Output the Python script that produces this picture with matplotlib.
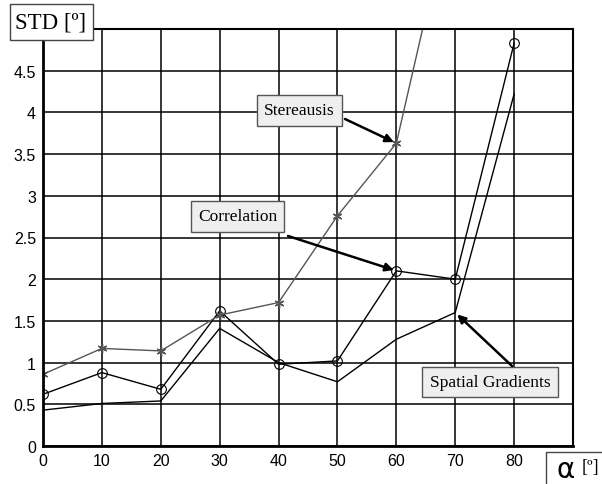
import matplotlib
matplotlib.use('Agg')
import matplotlib.pyplot as plt
from matplotlib.patches import Rectangle

angles = [0, 10, 20, 30, 40, 50, 60, 70, 80]
stereausis = [0.86, 1.17, 1.14, 1.57, 1.72, 2.76, 3.63, 6.7, 9.5]
correlation = [0.62, 0.88, 0.68, 1.62, 0.98, 1.02, 2.10, 2.00, 4.83]
spatial = [0.43, 0.51, 0.54, 1.41, 1.00, 0.77, 1.28, 1.60, 4.22]
yticks = [0, 0.5, 1, 1.5, 2, 2.5, 3, 3.5, 4, 4.5]
xticks = [0, 10, 20, 30, 40, 50, 60, 70, 80]

W, H = 602, 485
fig = plt.figure(figsize=(W / 100, H / 100), dpi=100)
ax = fig.add_axes([43 / W, 38 / H, 530 / W, 417 / H])

ax.plot(angles, spatial, color='black', lw=1)
ax.plot(angles, correlation, color='black', lw=1, marker='o', ms=7,
        mfc='none', mec='black', mew=0.8)
ax.plot(angles, stereausis, color='#555555', lw=1, marker=(6, 2, 0), ms=7,
        mec='#555555', mew=1)

ax.set_xlim(0, 90)
ax.set_ylim(0, 5)
ax.set_xticks(xticks)
ax.set_yticks(yticks)
ax.set_yticklabels(['%g' % v for v in yticks])
ax.grid(True, color='black', lw=1.1)
ax.tick_params(length=0, labelsize=11.5, pad=5)
for lab in ax.get_xticklabels() + ax.get_yticklabels():
    lab.set_family('Liberation Sans')
for s in ['left', 'bottom']:
    ax.spines[s].set_linewidth(2)
for s in ['top', 'right']:
    ax.spines[s].set_linewidth(1.5)

serif = 'Liberation Serif'
box = dict(boxstyle='square,pad=0.42', fc='#efefef', ec='#555555', lw=1)
arrow = dict(arrowstyle='-|>', color='black', lw=1.8, mutation_scale=12,
             shrinkA=0, shrinkB=2)


def img(x, y):
    return (x, H - y)


ax.text(*img(299.5, 111.5), 'Stereausis', transform=None, ha='center',
        va='center', family=serif, fontsize=12.5, bbox=box, zorder=5)
ax.annotate('', xy=(60, 3.63), xytext=img(345, 120), textcoords='figure pixels',
            arrowprops=arrow, zorder=5)

ax.text(*img(237.5, 217.5), 'Correlation', transform=None, ha='center',
        va='center', family=serif, fontsize=12.5, bbox=box, zorder=5)
ax.annotate('', xy=(60, 2.10), xytext=img(288, 237), textcoords='figure pixels',
            arrowprops=arrow, zorder=5)

ax.text(*img(490, 383), 'Spatial Gradients', transform=None, ha='center',
        va='center', family=serif, fontsize=12.5, bbox=box, zorder=5)
ax.annotate('', xy=(70, 1.60), xytext=img(512, 367), textcoords='figure pixels',
            arrowprops=arrow, zorder=5)

fig.patches.append(Rectangle(img(10, 41), 83, 36, transform=None,
                             fc='white', ec='#444444', lw=1, zorder=4))
fig.text(51 / W, 1 - 23 / H, 'STD [º]', ha='center', va='center',
         family=serif, fontsize=16.5, zorder=5)

fig.patches.append(Rectangle(img(546, 495), 70, 42, transform=None,
                             fc='white', ec='#444444', lw=1, zorder=4))
fig.text(566 / W, 1 - 470 / H, 'α', ha='center', va='center',
         family='DejaVu Sans', fontsize=20, zorder=5)
fig.text(590 / W, 1 - 468 / H, '[º]', ha='center', va='center',
         family=serif, fontsize=13, zorder=5)

fig.savefig('out.png', dpi=100)
